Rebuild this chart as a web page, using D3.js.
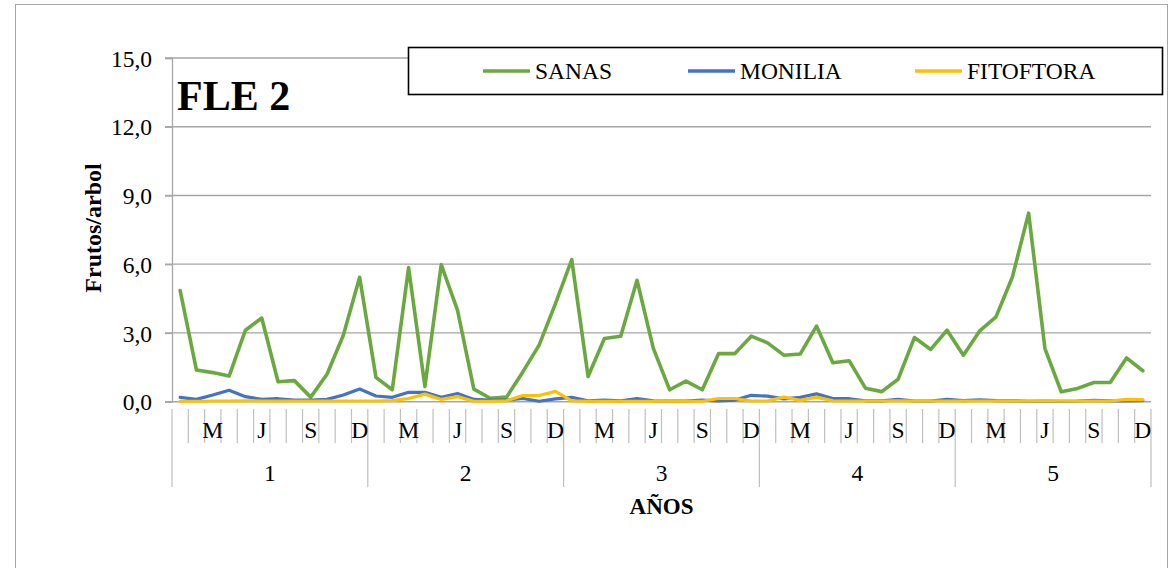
<!DOCTYPE html>
<html>
<head>
<meta charset="utf-8">
<script src="https://cdn.jsdelivr.net/npm/d3@7"></script>
<style>
  html, body { margin: 0; padding: 0; background: #fff; }
  svg { display: block; }
  text { font-family: "Liberation Serif", "Times New Roman", serif; fill: #000; }
</style>
</head>
<body>
<svg id="chart" width="1171" height="568"></svg>
<script>
const months = ["E","F","M","A","M","J","J","A","S","O","N","D"];
const years = ["1","2","3","4","5"];
const yTicks = [0, 3, 6, 9, 12, 15];
const seriesNames = ["SANAS", "MONILIA", "FITOFTORA"];

const sanas = [4.85,1.38,1.27,1.12,3.12,3.65,0.87,0.92,0.20,1.20,2.90,5.43,
               1.06,0.52,5.85,0.66,5.98,3.99,0.55,0.15,0.20,1.30,2.47,4.28,
               6.20,1.10,2.76,2.86,5.30,2.33,0.52,0.90,0.52,2.10,2.10,2.86,
               2.57,2.03,2.08,3.30,1.70,1.79,0.59,0.44,0.98,2.80,2.28,3.12,
               2.03,3.09,3.70,5.43,8.23,2.32,0.43,0.58,0.84,0.84,1.91,1.35];
const monilia = [0.19,0.10,0.29,0.50,0.22,0.10,0.13,0.07,0.07,0.10,0.29,0.55,
                 0.25,0.19,0.41,0.41,0.19,0.36,0.10,0.07,0.07,0.14,0.02,0.12,
                 0.19,0.04,0.07,0.04,0.14,0.04,0.03,0.03,0.07,0.03,0.07,0.28,
                 0.24,0.12,0.19,0.34,0.14,0.13,0.04,0.04,0.10,0.03,0.03,0.10,
                 0.05,0.08,0.05,0.04,0.02,0.03,0.02,0.03,0.06,0.04,0.03,0.05];
const fitoftora = [0.02,0.02,0.03,0.03,0.04,0.03,0.03,0.03,0.03,0.03,0.03,0.03,
                   0.03,0.05,0.14,0.33,0.10,0.22,0.02,0.02,0.04,0.27,0.27,0.45,
                   0.04,0.02,0.02,0.02,0.02,0.02,0.02,0.02,0.02,0.14,0.14,0.03,
                   0.03,0.20,0.06,0.20,0.04,0.03,0.03,0.03,0.04,0.03,0.03,0.03,
                   0.03,0.03,0.03,0.03,0.03,0.03,0.03,0.03,0.03,0.03,0.10,0.09];
const colors = ["#6aa93f", "#4472c4", "#ffc000"];

(function () {
const svg = d3.select("#chart");
const pLeft = 172, pRight = 1151, pTop = 58, pBottom = 401.7;

const n = sanas.length;
const x = d3.scaleBand().domain(d3.range(n)).range([pLeft, pRight]).padding(0);
const y = d3.scaleLinear().domain([0, 15]).range([pBottom, pTop]);
const cx = i => x(i) + x.bandwidth() / 2;

// outer frame
svg.append("rect").attr("x", 15.5).attr("y", 4.5).attr("width", 1152).attr("height", 620)
  .attr("fill", "#fff").attr("stroke", "#a6a6a6").attr("stroke-width", 1);

// gridlines
svg.append("g").selectAll("line").data(yTicks.filter(d => d > 0)).join("line")
  .attr("x1", pLeft - 7).attr("x2", pRight)
  .attr("y1", d => y(d)).attr("y2", d => y(d))
  .attr("stroke", "#a6a6a6").attr("stroke-width", 1.3);

// y axis
const yAxis = d3.axisLeft(y).tickValues(yTicks).tickSize(7).tickPadding(13)
  .tickFormat(d => d3.format(".1f")(d).replace(".", ","));
const gy = svg.append("g").attr("transform", `translate(${pLeft},0)`).call(yAxis);
gy.select(".domain").attr("stroke", "#a6a6a6").attr("stroke-width", 1.3);
gy.selectAll(".tick line").attr("stroke", "#a6a6a6").attr("stroke-width", 1.3);
gy.selectAll(".tick text").attr("font-size", 23.5).attr("font-family", "Liberation Serif").attr("fill", "#000").attr("dy", "0.35em");

// x axis line
svg.append("line").attr("x1", pLeft - 7).attr("x2", pRight).attr("y1", pBottom).attr("y2", pBottom)
  .attr("stroke", "#a6a6a6").attr("stroke-width", 1.6);

// month ticks
const tickTop = 409;
svg.append("g").selectAll("line").data(d3.range(n + 1)).join("line")
  .attr("x1", i => i < n ? x(i) : pRight).attr("x2", i => i < n ? x(i) : pRight)
  .attr("y1", tickTop).attr("y2", i => i % 12 === 0 ? 487 : 443)
  .attr("stroke", "#bfbfbf").attr("stroke-width", 1.2);

// month labels
svg.append("g").selectAll("text").data(d3.range(n).filter(i => i % 3 === 2)).join("text")
  .attr("x", i => cx(i)).attr("y", 438).attr("text-anchor", "middle")
  .attr("font-size", 23.5).text(i => months[i % 12]);

// year labels
svg.append("g").selectAll("text").data(years).join("text")
  .attr("x", (d, k) => (x(k * 12) + (k * 12 + 12 < n ? x(k * 12 + 12) : pRight)) / 2)
  .attr("y", 481).attr("text-anchor", "middle").attr("font-size", 23.5).text(d => d);

// axis titles
svg.append("text").attr("x", (pLeft + pRight) / 2).attr("y", 514).attr("text-anchor", "middle")
  .attr("font-size", 23).attr("font-weight", "bold").text("AÑOS");
svg.append("text").attr("transform", "translate(101,228) rotate(-90)").attr("text-anchor", "middle")
  .attr("font-size", 24).attr("font-weight", "bold").text("Frutos/arbol");

// lines
const line = d3.line().x((d, i) => cx(i)).y(d => y(d));
[sanas, monilia, fitoftora].forEach((s, k) => {
  svg.append("path").datum(s).attr("d", line).attr("fill", "none")
    .attr("stroke", colors[k]).attr("stroke-width", k === 0 ? 3.6 : 3.2)
    .attr("stroke-linejoin", "round").attr("stroke-linecap", "round");
});

// chart title inside
svg.append("text").attr("x", 177).attr("y", 110).attr("font-size", 42).attr("font-weight", "bold").text("FLE 2");

// legend
svg.append("rect").attr("x", 408.5).attr("y", 47.5).attr("width", 754).attr("height", 47)
  .attr("fill", "#fff").attr("stroke", "#000").attr("stroke-width", 1.6);
const legendPos = [483, 688, 915];
seriesNames.forEach((name, k) => {
  svg.append("line").attr("x1", legendPos[k]).attr("x2", legendPos[k] + 47)
    .attr("y1", 71).attr("y2", 71).attr("stroke", colors[k]).attr("stroke-width", 3.6);
  svg.append("text").attr("x", legendPos[k] + 52).attr("y", 79).attr("font-size", 23.5).text(name);
});
})();
</script>
</body>
</html>
